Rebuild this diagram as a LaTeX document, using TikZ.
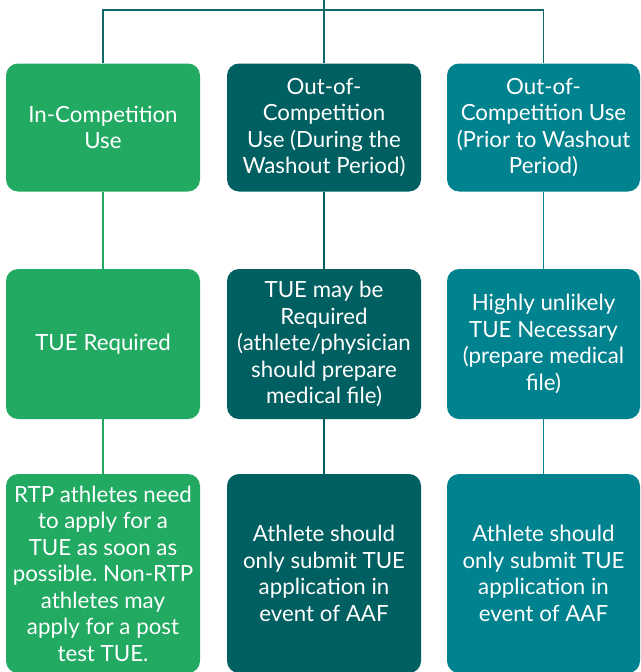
\documentclass[tikz,border=0pt]{standalone}
\usepackage{fontspec}
\setmainfont{Lato}
\frenchspacing
\definecolor{cgreen}{HTML}{22AA62}
\definecolor{cdark}{HTML}{005F60}
\definecolor{cteal}{HTML}{00828F}
\definecolor{cline}{HTML}{11686A}
\begin{document}
\begin{tikzpicture}[x=1pt,y=-1pt,
  box/.style={rounded corners=12pt, text=white, align=center, inner sep=0pt,
    font=\fontsize{22.3}{26.5}\selectfont},
  w1/.style={box, minimum width=194pt},
  w3/.style={box, minimum width=193pt},
  ln/.style={line width=1.1pt}]
\useasboundingbox (0,0) rectangle (640,672);
% row 1
\node[w1, fill=cgreen, minimum height=128pt] (a1) at (103,127.5) {In-Competition\\Use};
\node[w1, fill=cdark, minimum height=128pt] (b1) at (324,127.5) {Out-of-\\Competition\\Use (During the\\Washout Period)};
\node[w3, fill=cteal, minimum height=128pt] (c1) at (543.5,127.5) {Out-of-\\Competition Use\\(Prior to Washout\\Period)};
% row 2
\node[w1, fill=cgreen, minimum height=150pt] (a2) at (103,344) {TUE Required};
\node[w1, fill=cdark, minimum height=150pt] (b2) at (324,344) {TUE may be\\Required\\(athlete/physician\\should prepare\\medical file)};
\node[w3, fill=cteal, minimum height=150pt] (c2) at (543.5,344) {Highly unlikely\\TUE Necessary\\(prepare medical\\file)};
% row 3
\node[w1, fill=cgreen, minimum height=199pt] (a3) at (103,573.5) {RTP athletes need\\to apply for a\\TUE as soon as\\possible. Non-RTP\\athletes may\\apply for a post\\test TUE.};
\node[w1, fill=cdark, minimum height=199pt] (b3) at (324,573.5) {Athlete should\\only submit TUE\\application in\\event of AAF};
\node[w3, fill=cteal, minimum height=199pt] (c3) at (543.5,573.5) {Athlete should\\only submit TUE\\application in\\event of AAF};
% top tree
\coordinate (top) at (324,0);
\coordinate (jl) at (103,10);
\coordinate (jr) at (543.5,10);
\draw[ln, cline] (top) -- (b1.north);
\draw[ln, cline] (a1.north) -- (jl) -- (jr) -- (c1.north);
% column connectors
\draw[ln, cgreen] (a1.south) -- (a2.north);
\draw[ln, cgreen] (a2.south) -- (a3.north);
\draw[ln, cdark] (b1.south) -- (b2.north);
\draw[ln, cdark] (b2.south) -- (b3.north);
\draw[ln, cteal] (c1.south) -- (c2.north);
\draw[ln, cteal] (c2.south) -- (c3.north);
\end{tikzpicture}
\end{document}
